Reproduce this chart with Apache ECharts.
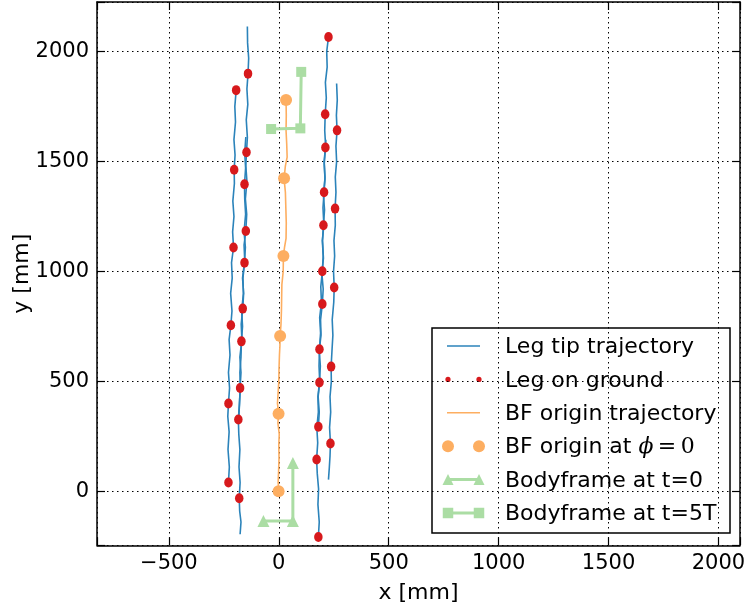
<!DOCTYPE html>
<html>
<head>
<meta charset="utf-8">
<script src="https://cdn.jsdelivr.net/npm/echarts@6/dist/echarts.min.js"></script>
<style>
  html, body { margin: 0; padding: 0; background: #fff; }
  #chart { width: 747px; height: 609px; }
</style>
</head>
<body>
<div id="chart"></div>
<script>
// ---- leg tip trajectories [x mm, y mm] ----
const legLeftFront = [
  [-229,40],[-225,110],[-231,190],[-226,270],[-232,340],[-229,399],
  [-224,470],[-229,540],[-222,620],[-226,690],[-218,755],
  [-213,820],[-219,900],[-212,970],[-215,1040],[-206,1109],
  [-210,1180],[-204,1250],[-209,1320],[-202,1400],[-203,1463],
  [-199,1530],[-204,1600],[-197,1680],[-200,1750],[-194,1825]
];
const legLeftMiddle = [
  [-183,320],[-179,390],[-176,470],
  [-172,540],[-177,610],[-168,690],[-171,760],[-164,831],
  [-160,900],[-165,970],[-155,1050],[-158,1120],[-150,1184],
  [-146,1260],[-152,1330],[-145,1410],[-150,1480],[-147,1542],
  [-143,1610],[-148,1690],[-141,1760],[-145,1830],[-140,1900],
  [-137,1970],[-142,2040],[-143,2115]
];
const legLeftRear = [
  [-176,-196],[-172,-140],[-178,-90],[-180,-32],
  [-176,40],[-181,110],[-177,190],[-182,260],[-184,326],
  [-179,400],[-175,470],[-177,540],[-172,610],[-170,682],
  [-165,750],[-169,820],[-161,900],[-163,970],[-156,1040],
  [-152,1110],[-158,1180],[-151,1260],[-155,1330],[-156,1397],
  [-151,1470],[-155,1540],[-150,1612]
];
const legRightRear = [
  [180,-208],[184,-140],[178,-60],[181,10],[175,80],[172,144],
  [177,220],[173,290],[180,360],[178,430],[185,495],
  [189,570],[184,640],[192,710],[190,780],[198,852],
  [202,920],[196,990],[203,1060],[199,1140],[203,1210],
  [208,1280],[203,1350],[210,1420],[207,1490],[212,1564],
  [214,1600]
];
const legRightMiddle = [
  [226,53],[230,110],[233,160],[235,217],
  [231,290],[236,360],[233,430],[239,500],[238,567],
  [242,640],[246,710],[243,780],[250,860],[252,927],
  [249,1000],[254,1070],[251,1140],[257,1210],[256,1286],
  [260,1360],[257,1430],[263,1500],[260,1570],[265,1642],
  [262,1710],[266,1780],[263,1855]
];
const legRightFront = [
  [180,293],[184,360],[179,430],[186,500],[183,570],[185,646],
  [190,720],[186,790],[194,860],[191,930],[198,1001],
  [202,1070],[198,1140],[205,1210],[201,1290],[206,1360],
  [210,1430],[206,1500],[213,1570],[209,1640],[211,1715],
  [216,1790],[212,1860],[220,1930],[218,2000],[226,2067]
];

// ---- foot contact positions ----
const groundContacts = [
  [-229,40],[-229,399],[-218,755],[-206,1109],[-203,1463],[-194,1825],
  [-176,470],[-164,831],[-150,1184],[-147,1542],[-140,1900],
  [-180,-32],[-184,326],[-170,682],[-156,1040],[-156,1397],
  [180,-208],[172,144],[185,495],[198,852],[203,1210],[212,1564],
  [235,217],[238,567],[252,927],[256,1286],[265,1642],
  [180,293],[185,646],[198,1001],[206,1360],[211,1715],[226,2067]
];

// ---- body frame origin ----
const bfOriginPath = [
  [0,0],[-3,40],[-1,90],[1,150],[0,210],[2,260],[-4,310],[-1,353],
  [-6,400],[-3,450],[0,500],[1,560],[3,620],[5,660],[6,706],
  [10,760],[12,820],[13,880],[14,940],[20,1000],[21,1070],
  [26,1110],[33,1150],[34,1220],[32,1290],[30,1360],[24,1424],
  [30,1480],[38,1520],[36,1580],[33,1640],[34,1710],[33,1780]
];
const bfOriginAtPhase0 = [[-1,0],[-1,353],[6,706],[21,1070],[24,1424],[33,1780]];

// ---- body frame axes: [x-axis tip, origin corner, y-axis tip] ----
const bodyframeStart = [[-70,-135],[64,-135],[64,128]];
const bodyframeEnd = [[-35,1648],[98,1651],[102,1908]];

// ---- axes ----
const xExtent = [-827, 2098];
const yExtent = [-246, 2226];
const tickStep = 500;

const legendLabels = [
  'Leg tip trajectory',
  'Leg on ground',
  'BF origin trajectory',
  '{t|BF origin at }{m|ϕ}{e|\u2009=\u20090}',
  'Bodyframe at t=0',
  'Bodyframe at t=5T'
];

const C_BLUE = '#2b83ba', C_RED = '#d7191c', C_ORANGE = '#fdae61', C_GREEN = '#abdda4';
const FONT = 'DejaVu Sans';

const tickFmt = v => {
  if (Math.abs(v % tickStep) > 1e-6) return '';
  return v < 0 ? '\u2212' + Math.abs(v) : String(v);
};

const frameAxisLine = { show: true, onZero: false, lineStyle: { color: '#000', width: 1.5 } };
const innerTick = { show: true, inside: true, length: 8, lineStyle: { color: '#000', width: 1.2 } };
const dotted = { show: true, lineStyle: { color: '#000', width: 1, type: [1.5, 3.5] } };

function valueAxis(extent, extra) {
  return Object.assign({
    type: 'value', min: extent[0], max: extent[1],
    splitNumber: 5, minInterval: tickStep, maxInterval: tickStep,
    axisLine: frameAxisLine, axisTick: innerTick
  }, extra);
}

const legTracks = [legLeftFront, legLeftMiddle, legLeftRear, legRightRear, legRightMiddle, legRightFront];

const series = [];
legTracks.forEach(track => series.push({
  name: 'Leg tip trajectory', type: 'line', data: track, symbol: 'none',
  lineStyle: { color: C_BLUE, width: 1.6 }, silent: true, z: 2
}));
series.push({
  name: 'Leg on ground', type: 'scatter', data: groundContacts,
  symbol: 'circle', symbolSize: [8.5, 10], itemStyle: { color: C_RED, opacity: 1 }, silent: true, z: 3
});
series.push({
  name: 'BF origin trajectory', type: 'line', data: bfOriginPath, symbol: 'none',
  lineStyle: { color: C_ORANGE, width: 1.6 }, silent: true, z: 3
});
series.push({
  name: 'BF origin at phi=0', type: 'scatter', data: bfOriginAtPhase0,
  symbol: 'circle', symbolSize: 12, itemStyle: { color: C_ORANGE, opacity: 1 }, silent: true, z: 4
});
series.push({
  name: 'Bodyframe at t=0', type: 'line', data: bodyframeStart,
  symbol: 'triangle', symbolSize: 12, showAllSymbol: true,
  itemStyle: { color: C_GREEN, opacity: 1 }, lineStyle: { color: C_GREEN, width: 3 }, silent: true, z: 5
});
series.push({
  name: 'Bodyframe at t=5T', type: 'line', data: bodyframeEnd,
  symbol: 'rect', symbolSize: 10, showAllSymbol: true,
  itemStyle: { color: C_GREEN, opacity: 1 }, lineStyle: { color: C_GREEN, width: 3 }, silent: true, z: 5
});

// ---- legend box ----
const LG = { x: 432, y: 328, w: 298, h: 205, row0: 346, step: 33.4, h0: 448, h1: 479, textX: 505 };
const legendEls = [{
  type: 'rect', shape: { x: LG.x, y: LG.y, width: LG.w, height: LG.h },
  style: { fill: '#fff', stroke: '#000', lineWidth: 1.5 }
}];
const rowY = i => LG.row0 + LG.step * i;
const hLine = (i, color, w) => ({
  type: 'line', shape: { x1: LG.h0 - 1, y1: rowY(i), x2: LG.h1 + 1, y2: rowY(i) },
  style: { stroke: color, lineWidth: w }
});
const dot = (cx, cy, r, color) => ({ type: 'circle', shape: { cx, cy, r }, style: { fill: color } });
const tri = (cx, cy, s, color) => ({
  type: 'polygon', shape: { points: [[cx, cy - s / 2], [cx - s / 2, cy + s / 2], [cx + s / 2, cy + s / 2]] },
  style: { fill: color }
});
const sq = (cx, cy, s, color) => ({ type: 'rect', shape: { x: cx - s / 2, y: cy - s / 2, width: s, height: s }, style: { fill: color } });

legendEls.push(hLine(0, C_BLUE, 1.6));
legendEls.push(dot(LG.h0, rowY(1), 2.6, C_RED), dot(LG.h1, rowY(1), 2.6, C_RED));
legendEls.push(hLine(2, C_ORANGE, 1.6));
legendEls.push(dot(LG.h0, rowY(3), 6, C_ORANGE), dot(LG.h1, rowY(3), 6, C_ORANGE));
legendEls.push(hLine(4, C_GREEN, 3), tri(LG.h0, rowY(4), 11, C_GREEN), tri(LG.h1, rowY(4), 11, C_GREEN));
legendEls.push(hLine(5, C_GREEN, 3), sq(LG.h0, rowY(5), 10.5, C_GREEN), sq(LG.h1, rowY(5), 10.5, C_GREEN));
legendLabels.forEach((label, i) => legendEls.push({
  type: 'text', x: LG.textX, y: rowY(i) + 1.5,
  style: {
    text: label, fill: '#000', font: '22px "' + FONT + '"',
    verticalAlign: 'middle', align: 'left',
    rich: {
      t: { fontFamily: FONT, fontSize: 22, fill: '#000' },
      m: { fontFamily: 'DejaVu Serif', fontStyle: 'italic', fontSize: 22, fill: '#000' },
      e: { fontFamily: 'DejaVu Serif', fontSize: 22, fill: '#000' }
    }
  }
}));

const chart = echarts.init(document.getElementById('chart'), null, { renderer: 'canvas' });
chart.setOption({
  animation: false,
  backgroundColor: '#fff',
  grid: { left: 97, top: 2, width: 643, height: 543.3, containLabel: false, outerBoundsMode: 'none' },
  xAxis: [
    valueAxis(xExtent, {
      position: 'bottom',
      axisLabel: { formatter: tickFmt, fontSize: 21, color: '#000', fontFamily: FONT, margin: 8 },
      splitLine: dotted,
      name: 'x [mm]', nameLocation: 'middle', nameGap: 37, nameMoveOverlap: false,
      nameTextStyle: { fontSize: 22, color: '#000', fontFamily: FONT }
    }),
    valueAxis(xExtent, { position: 'top', axisLabel: { show: false }, splitLine: { show: false } })
  ],
  yAxis: [
    valueAxis(yExtent, {
      position: 'left',
      axisLabel: { formatter: tickFmt, fontSize: 21, color: '#000', fontFamily: FONT, margin: 8 },
      splitLine: dotted,
      name: 'y [mm]', nameLocation: 'middle', nameGap: 64, nameMoveOverlap: false,
      nameTextStyle: { fontSize: 22, color: '#000', fontFamily: FONT }
    }),
    valueAxis(yExtent, { position: 'right', axisLabel: { show: false }, splitLine: { show: false } })
  ],
  series: series,
  graphic: { elements: [{ type: 'group', z: 100, children: legendEls }] }
});
</script>
</body>
</html>
